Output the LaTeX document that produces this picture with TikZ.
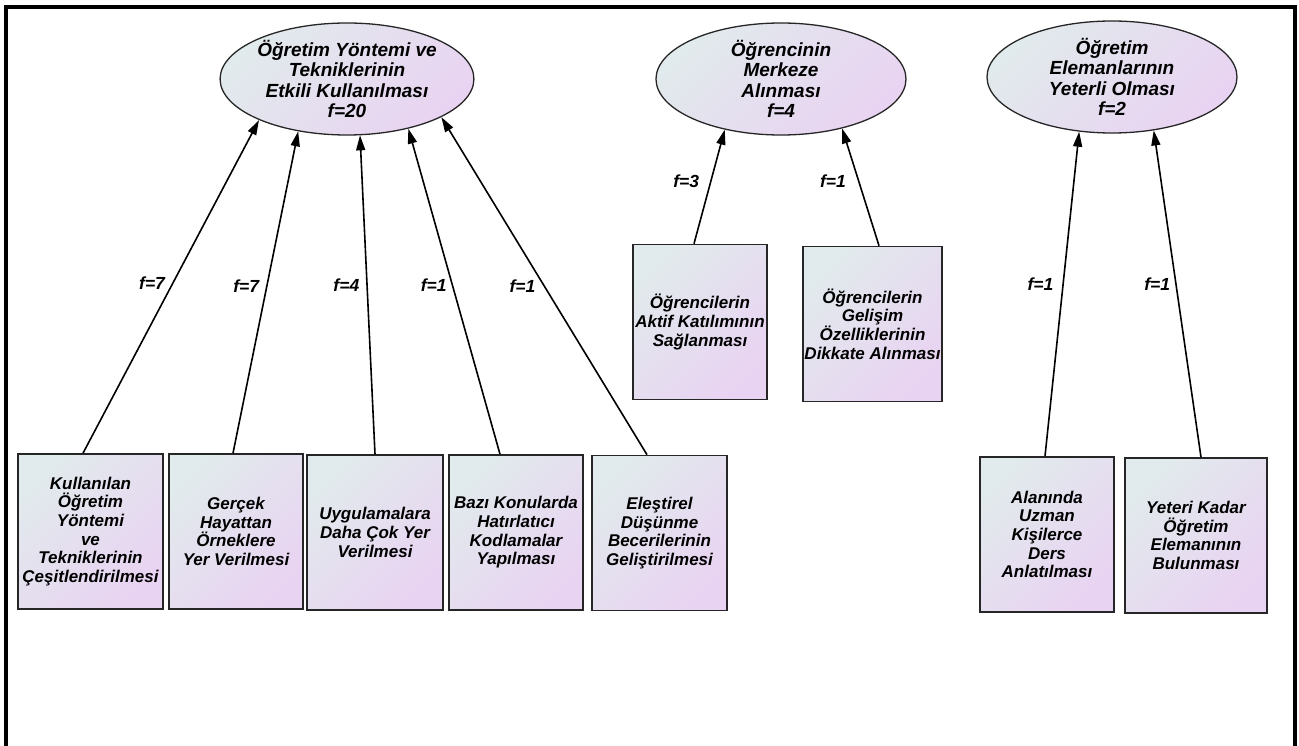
\documentclass[tikz,border=0pt]{standalone}
\usepackage{fontspec}
\setmainfont{Liberation Sans}
\usetikzlibrary{shapes.geometric,arrows.meta}
\definecolor{shadetop}{RGB}{225,234,236}
\definecolor{shadebot}{RGB}{233,211,242}

\begin{document}
\begin{tikzpicture}[x=1pt,y=-1pt]

      \useasboundingbox (0,0) rectangle (1299,746);
      \draw[line width=4pt] (6,746) -- (6,7) -- (1295,7) -- (1295,746);

      \begin{scope}[every node/.style={ellipse,draw=black!85,line width=1.3pt,
          top color=shadetop,bottom color=shadebot,shading angle=45,
          minimum width=250pt,minimum height=112pt,inner sep=0pt,align=center,
          font=\fontsize{19}{20.5}\selectfont\bfseries\itshape}]
        \node (t1) at (347,79)  {Öğretim Yöntemi ve\\Tekniklerinin\\Etkili Kullanılması\\f=20};
        \node (t2) at (781,79)  {Öğrencinin\\Merkeze\\Alınması\\f=4};
        \node (t3) at (1112,77) {Öğretim\\Elemanlarının\\Yeterli Olması\\f=2};
      \end{scope}

      \begin{scope}[every node/.style={rectangle,draw=black!85,line width=1.6pt,
          top color=shadetop,bottom color=shadebot,shading angle=45,
          minimum height=155pt,inner sep=0pt,align=center,
          font=\fontsize{17}{18.7}\selectfont\bfseries\itshape}]
        \node[minimum width=145pt] (k1) at (90.5,531.5) {Kullanılan\\Öğretim\\Yöntemi\\ve\\Tekniklerinin\\Çeşitlendirilmesi};
        \node[minimum width=134pt] (k2) at (236,531.5)  {Gerçek\\Hayattan\\Örneklere\\Yer Verilmesi};
        \node[minimum width=136pt] (k3) at (375,532.5)  {Uygulamalara\\Daha Çok Yer\\Verilmesi};
        \node[minimum width=134pt] (k4) at (516,532.5)  {Bazı Konularda\\Hatırlatıcı\\Kodlamalar\\Yapılması};
        \node[minimum width=135pt] (k5) at (659.5,533)  {Eleştirel\\Düşünme\\Becerilerinin\\Geliştirilmesi};
        \node[minimum width=134pt] (k6) at (700,322)    {Öğrencilerin\\Aktif Katılımının\\Sağlanması};
        \node[minimum width=139pt] (k7) at (872.5,324)  {Öğrencilerin\\Gelişim\\Özelliklerinin\\Dikkate Alınması};
        \node[minimum width=134pt] (k8) at (1047,534.5) {Alanında\\Uzman\\Kişilerce\\Ders\\Anlatılması};
        \node[minimum width=142pt] (k9) at (1196,535.5) {Yeteri Kadar\\Öğretim\\Elemanının\\Bulunması};
      \end{scope}

      \begin{scope}[every node/.style={inner sep=0pt,
          font=\fontsize{17.5}{20}\selectfont\bfseries\itshape}]

        \begin{scope}[every edge/.style={draw,line width=1.6pt,-{Triangle[length=15pt,width=9pt]}}]
          \path ([xshift=-7.5pt]k1.north) edge node[pos=.51,left=7pt]  {f=7} (t1.205);
          \path ([xshift=-3pt]k2.north)   edge node[pos=.52,left=7pt]  {f=7} (t1.227);
          \path (k3.north)                edge node[pos=.53,left=7pt]  {f=4} (t1.283);
          \path ([xshift=-16pt]k4.north)  edge node[pos=.52,left=5pt]  {f=1} (t1.321);
          \path ([xshift=-12.5pt]k5.north) edge node[pos=.50,left=8pt] {f=1} (t1.338);
          \path ([xshift=-6pt]k6.north)   edge node[pos=.55,left=11pt] {f=3} (t2.222);
          \path ([xshift=6.5pt]k7.north)  edge node[pos=.55,left=12pt] {f=1} (t2.321);
          \path ([xshift=-2pt]k8.north)   edge node[pos=.53,left=9pt]  {f=1} (t3.239);
          \path ([xshift=5pt]k9.north)    edge node[pos=.53,left=5pt]  {f=1} (t3.308);
        \end{scope}
      \end{scope}

    \end{tikzpicture}
\end{document}
